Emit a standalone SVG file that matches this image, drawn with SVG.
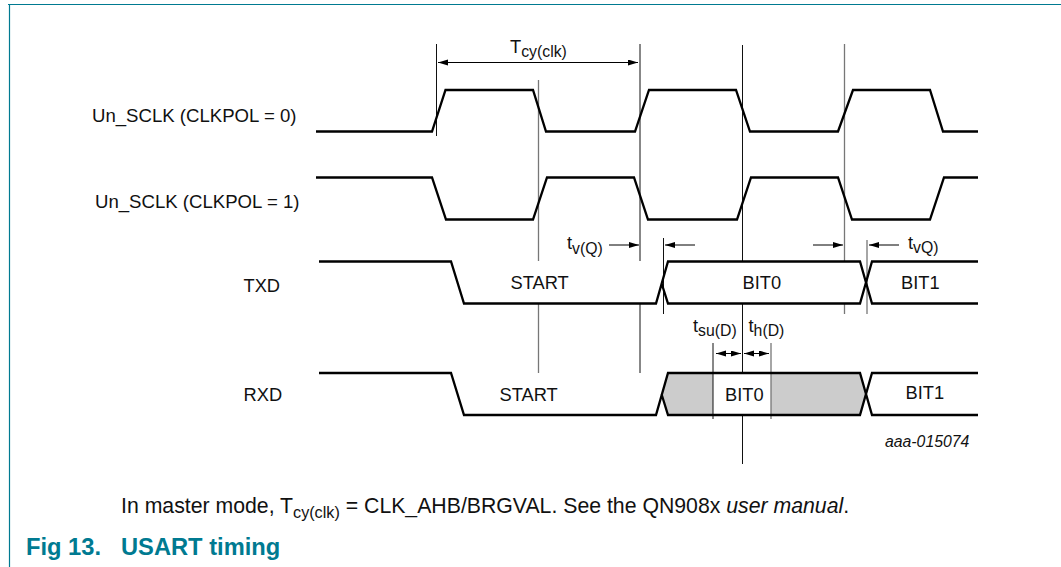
<svg xmlns="http://www.w3.org/2000/svg" width="1061" height="567" viewBox="0 0 1061 567">
<style>
text{font-family:"Liberation Sans",Arial,sans-serif;font-size:18.300px;fill:#111}
.l{font-size:18.600px}
.s{font-size:15.800px}
.c{font-size:21.250px}
.cs{font-size:16.200px}
.h{font-size:23.700px;font-weight:bold;fill:#007a91}
.sig{fill:none;stroke:#000;stroke-width:2.300;stroke-linejoin:miter}
.g{stroke:#111;stroke-width:1;fill:none}
.g2{stroke:#777;stroke-width:1.300;fill:none}
.a{stroke:#000;stroke-width:1;fill:none;marker-end:url(#ah)}
</style>
<defs><marker id="ah" markerUnits="userSpaceOnUse" markerWidth="11" markerHeight="7" refX="10" refY="3" orient="auto-start-reverse"><path d="M0 0L10 3L0 6Z" fill="#000"/></marker></defs>
<rect width="1061" height="567" fill="#fff"/>
<path d="M8 4.500H1061M9.500 4.500V567" fill="none" stroke="#007a91" stroke-width="1.200"/>
<g id="fills"><path d="M661.500 394L668 373.500H860L866 394L860 415H668Z" fill="#cccccc"/><rect x="713" y="374" width="58" height="40" fill="#fff"/></g>
<g id="connectors">
<path class="g" d="M436.500 44V136M640 44V261M640 304V373M742.500 45V261M742.500 304V373M742.500 415V464M663.500 238V314M713 343V419"/>
<path class="g2" d="M538.500 80V261M538.500 304V373M844.500 44V261M844.500 304V314M867 240V314M771 343V419"/>
<path class="a" d="M438 62.500H638" marker-start="url(#ah)"/>
<path class="a" d="M609 245H639"/><path class="a" d="M695 245H665"/><path class="a" d="M813 245H843"/><path class="a" d="M899 245H869"/>
<path class="a" d="M741 353.500H716" marker-start="url(#ah)"/><path class="a" d="M744 353.500H769" marker-start="url(#ah)"/>
</g>
<g id="Un_SCLK0"><path class="sig" d="M316 131.500H432L445.500 90H533L546 131.500H635L649 90H736L750 131.500H838L853 90H930L943 131.500H978"/><text class="l" x="92" y="122">Un_SCLK (CLKPOL = 0)</text></g>
<g id="Un_SCLK1"><path class="sig" d="M316 177.500H432L446 219.500H533L547 177.500H634L648 219.500H737L751 177.500H838L852 219.500H930L944 177.500H978"/><text class="l" x="95" y="208">Un_SCLK (CLKPOL = 1)</text></g>
<g id="TXD"><path class="sig" d="M319 261.500H451L464 303.500H656L668 261.500H860L872 303.500H978M978 261.500H872L860 303.500H668L661.500 283"/><text x="243.500" y="291.500">TXD</text><text x="510.500" y="288.500">START</text><text x="742.500" y="289">BIT0</text><text x="901" y="289">BIT1</text></g>
<g id="RXD"><path class="sig" d="M319 373H451L464 415H656L668 373H860L872 415H978M978 373H872L860 415H668L661.500 394"/><text x="243.500" y="401">RXD</text><text x="499.500" y="400.500">START</text><text x="725" y="401">BIT0</text><text x="905.500" y="399">BIT1</text></g>
<g id="labels">
<text x="510" y="52.500">T<tspan class="s" dy="4.500">cy(clk)</tspan></text>
<text x="567" y="249">t<tspan class="s" dy="5">v(Q)</tspan></text>
<text x="908" y="249">t<tspan class="s" dy="4">vQ)</tspan></text>
<text x="693" y="332">t<tspan class="s" dy="4">su(D)</tspan></text>
<text x="748.500" y="332">t<tspan class="s" dy="4">h(D)</tspan></text>
<text x="885" y="446.500" style="font-size:15.800px;font-style:italic">aaa-015074</text>
<text class="c" x="121" y="513">In master mode, T<tspan class="cs" dy="5">cy(clk)</tspan><tspan dy="-5"> = CLK_AHB/BRGVAL. See the QN908x </tspan><tspan font-style="italic">user manual</tspan>.</text>
<text class="h" x="26" y="555">Fig 13.</text>
<text class="h" x="121" y="555">USART timing</text>
</g>
</svg>
